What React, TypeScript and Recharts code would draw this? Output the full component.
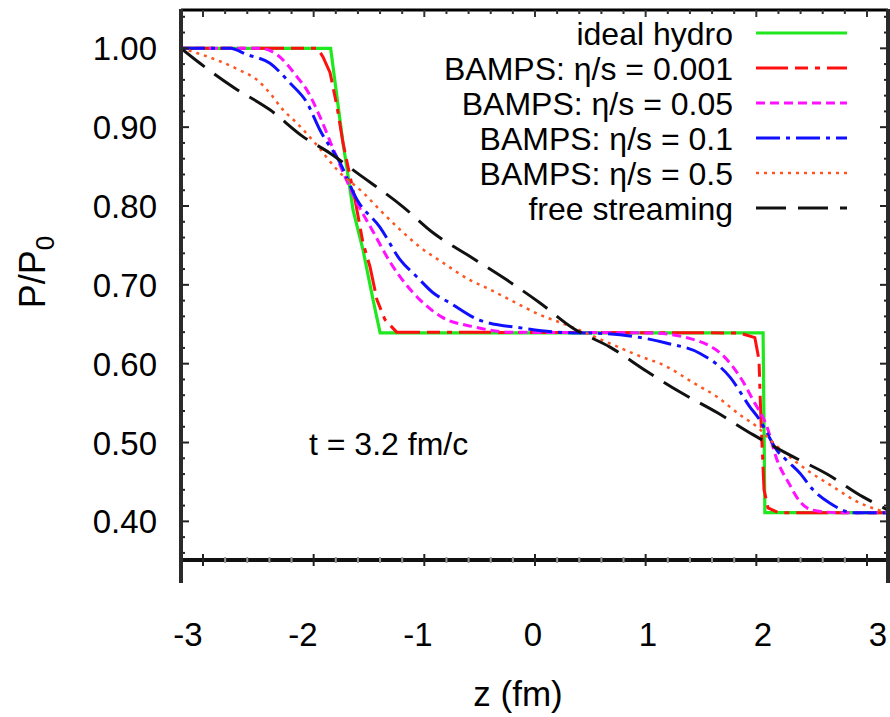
import React from "react";
import { LineChart, Line, XAxis, YAxis, Label } from "recharts";

const FONT = '"Liberation Sans", Arial, Helvetica, sans-serif';

// pressure profiles P/P0 vs z (fm) at t = 3.2 fm/c as [z, P/P0]
const idealHydro = [
  [-3, 1.0], [-1.73, 1.0], [-1.676, 0.938], [-1.625, 0.88], [-1.59, 0.846], [-1.54, 0.795],
  [-1.455, 0.744], [-1.37, 0.681], [-1.31, 0.639], [1.94, 0.639], [1.955, 0.411], [3, 0.411],
];
const bamps0001 = [
  [-3, 1.0], [-1.84, 1.0], [-1.795, 0.989], [-1.735, 0.969], [-1.676, 0.926], [-1.625, 0.88],
  [-1.583, 0.85], [-1.523, 0.808], [-1.455, 0.753], [-1.396, 0.723], [-1.337, 0.681],
  [-1.27, 0.656], [-1.17, 0.64], [1.74, 0.639], [1.87, 0.633], [1.905, 0.605], [1.922, 0.528],
  [1.948, 0.44], [1.982, 0.417], [2.07, 0.411], [3, 0.411],
];
const bamps005 = [
  [-3, 1.0], [-2.33, 1.0], [-2.185, 0.992], [-2.016, 0.964], [-1.931, 0.947], [-1.82, 0.913],
  [-1.71, 0.873], [-1.506, 0.804], [-1.379, 0.77], [-1.226, 0.729], [-1.099, 0.702],
  [-0.972, 0.681], [-0.785, 0.659], [-0.522, 0.647], [-0.208, 0.64], [0.98, 0.639],
  [1.405, 0.628], [1.634, 0.605], [1.77, 0.577], [1.854, 0.554], [1.973, 0.52], [2.058, 0.478],
  [2.168, 0.446], [2.228, 0.43], [2.364, 0.414], [2.593, 0.411], [3, 0.411],
];
const bamps01 = [
  [-3, 1.0], [-2.584, 1.0], [-2.44, 0.992], [-2.245, 0.981], [-2.075, 0.956], [-1.931, 0.931],
  [-1.82, 0.896], [-1.651, 0.855], [-1.506, 0.808], [-1.311, 0.773], [-1.141, 0.732],
  [-0.997, 0.71], [-0.861, 0.69], [-0.717, 0.677], [-0.462, 0.655], [-0.098, 0.645],
  [0.191, 0.64], [0.615, 0.638], [1.125, 0.626], [1.405, 0.613], [1.659, 0.583], [1.829, 0.545],
  [1.914, 0.528], [1.973, 0.512], [2.058, 0.49], [2.143, 0.477], [2.253, 0.461], [2.364, 0.44],
  [2.508, 0.423], [2.703, 0.411], [3, 0.411],
];
const bamps05 = [
  [-3, 1.0], [-2.694, 0.985], [-2.499, 0.972], [-2.355, 0.96], [-2.245, 0.943], [-2.134, 0.922],
  [-2.016, 0.905], [-1.846, 0.877], [-1.676, 0.846], [-1.455, 0.817], [-1.286, 0.791],
  [-1.141, 0.77], [-0.972, 0.748], [-0.776, 0.728], [-0.547, 0.706], [-0.403, 0.696],
  [-0.208, 0.681], [0.047, 0.662], [0.276, 0.649], [0.666, 0.624], [0.87, 0.611], [1.125, 0.596],
  [1.345, 0.576], [1.549, 0.558], [1.744, 0.535], [1.888, 0.52], [2.024, 0.5], [2.313, 0.465],
  [2.533, 0.444], [2.737, 0.425], [2.907, 0.415], [3, 0.411],
];
const freeStreaming = [
  [-3, 1.0], [-2.839, 0.981], [-2.559, 0.951], [-2.245, 0.922], [-1.965, 0.888], [-1.735, 0.867],
  [-1.506, 0.842], [-1.116, 0.799], [-0.861, 0.766], [-0.547, 0.736], [-0.233, 0.706],
  [0.047, 0.677], [0.327, 0.645], [0.641, 0.621], [0.955, 0.59], [1.235, 0.564], [1.549, 0.538],
  [1.854, 0.51], [2.168, 0.484], [2.482, 0.46], [2.788, 0.431], [2.992, 0.415],
];

const xTicks = [-3, -2, -1, 0, 1, 2, 3];
const yTicks = [
  0.36, 0.38, 0.4, 0.42, 0.44, 0.46, 0.48, 0.5, 0.52, 0.54, 0.56, 0.58, 0.6, 0.62, 0.64, 0.66,
  0.68, 0.7, 0.72, 0.74, 0.76, 0.78, 0.8, 0.82, 0.84, 0.86, 0.88, 0.9, 0.92, 0.94, 0.96, 0.98,
  1.0, 1.02, 1.04,
];
// tick marks along top / bottom border (every fifth one is long)
const borderTicks = [
  0, 1, 2, 3, 4, 5, 6, 7, 8, 9, 10, 11, 12, 13, 14, 15, 16, 17, 18, 19, 20, 21, 22, 23, 24, 25,
  26, 27, 28, 29, 30,
];

const series = [
  { name: "ideal hydro", data: idealHydro, color: "#1fe81f", dash: undefined, width: 3.2, curve: "linear" },
  { name: "BAMPS: η/s = 0.001", data: bamps0001, color: "#ff1010", dash: "32 7 13 7 5 7", width: 3, curve: "linear" },
  { name: "BAMPS: η/s = 0.05", data: bamps005, color: "#ff10ff", dash: "9 5", width: 3, curve: "monotone" },
  { name: "BAMPS: η/s = 0.1", data: bamps01, color: "#1010ff", dash: "24 6 4 6", width: 3, curve: "monotone" },
  { name: "BAMPS: η/s = 0.5", data: bamps05, color: "#ff5520", dash: "3 5", width: 2.5, curve: "monotone" },
  { name: "free streaming", data: freeStreaming, color: "#111111", dash: "30 12", width: 3, curve: "monotone" },
];

// chart-level rows so the decoration axes (border ticks, labels) get a domain
const frameRows = borderTicks.map((t) => ({ t, v: yTicks[t] }));

const isMajor = (v: number) => Math.abs(v * 10 - Math.round(v * 10)) < 1e-6;

const LeftTick = (props: any) => {
  const { x, y, payload } = props;
  const v = payload.value;
  const major = isMajor(v);
  return (
    <g>
      <line x1={x} x2={x + (major ? 8 : 4)} y1={y} y2={y} stroke="#222" strokeWidth={2} />
      {major && (
        <text x={x - 24} y={y + 12} textAnchor="end" fontSize={33} fontFamily={FONT} fill="#000">
          {v.toFixed(2)}
        </text>
      )}
    </g>
  );
};

const RightTick = (props: any) => {
  const { x, y, payload } = props;
  const major = isMajor(payload.value);
  return <line x1={x} x2={x - (major ? 8 : 4)} y1={y} y2={y} stroke="#222" strokeWidth={2} />;
};

const TopTick = (props: any) => {
  const { x, y, payload } = props;
  const major = payload.value % 5 === 0;
  return <line x1={x} x2={x} y1={y} y2={y + (major ? 7 : 4)} stroke="#333" strokeWidth={2} />;
};

const BottomTick = (props: any) => {
  const { x, y, payload } = props;
  const major = payload.value % 5 === 0;
  const h = major ? 6 : 3;
  return <line x1={x} x2={x} y1={y - h} y2={y + h} stroke={major ? "#222" : "#999"} strokeWidth={2} />;
};

const XLabelTick = (props: any) => {
  const { x, y, payload } = props;
  const v = payload.value;
  return (
    <text x={x} y={y + 85} textAnchor="middle" fontSize={33} fontFamily={FONT} fill="#000">
      {v < 0 ? `-${-v}` : String(v)}
    </text>
  );
};

export default function App() {
  return (
    <div style={{ position: "absolute", left: 0, top: 0, width: 890, height: 717, background: "#fff" }}>
      <LineChart
        width={890}
        height={717}
        data={frameRows}
        margin={{ top: 9, right: 1, bottom: 155, left: 0 }}
      >
        <XAxis xAxisId="z" dataKey="z" type="number" domain={[-3, 3]} allowDataOverflow hide />
        <XAxis
          xAxisId="bottomTicks"
          dataKey="t"
          type="number"
          domain={[-0.994, 30.95]}
          allowDataOverflow
          ticks={borderTicks}
          height={1}
          axisLine={{ stroke: "#111", strokeWidth: 4 }}
          tickLine={false}
          tickSize={0}
          tickMargin={0}
          tick={<BottomTick />}
          interval={0}
        />
        <XAxis
          xAxisId="labels"
          dataKey="t"
          type="number"
          domain={[-3.061, 3.087]}
          allowDataOverflow
          ticks={xTicks}
          height={1}
          axisLine={false}
          tickLine={false}
          tickSize={0}
          tickMargin={0}
          tick={<XLabelTick />}
          interval={0}
        >
          <Label
            content={() => (
              <text x={518} y={706} textAnchor="middle" fontSize={35} fontFamily={FONT} fill="#000">
                z (fm)
              </text>
            )}
          />
        </XAxis>
        <XAxis
          xAxisId="topTicks"
          dataKey="t"
          orientation="top"
          type="number"
          domain={[-0.994, 30.95]}
          allowDataOverflow
          ticks={borderTicks}
          height={1}
          axisLine={{ stroke: "#000", strokeWidth: 3 }}
          tickLine={false}
          tickSize={0}
          tickMargin={0}
          tick={<TopTick />}
          interval={0}
        />
        <YAxis
          yAxisId="p"
          type="number"
          domain={[0.351, 1.0486]}
          allowDataOverflow
          ticks={yTicks}
          width={181}
          axisLine={false}
          tickLine={false}
          tickSize={0}
          tickMargin={0}
          tick={<LeftTick />}
          interval={0}
        />
        <YAxis
          yAxisId="right"
          dataKey="v"
          orientation="right"
          type="number"
          domain={[0.351, 1.0486]}
          allowDataOverflow
          ticks={yTicks}
          width={1}
          axisLine={false}
          tickLine={false}
          tickSize={0}
          tickMargin={0}
          tick={<RightTick />}
          interval={0}
        />
        {series.map((s) => (
          <Line
            key={s.name}
            xAxisId="z"
            yAxisId="p"
            data={s.data.map(([z, p]) => ({ z, p }))}
            dataKey="p"
            name={s.name}
            type={s.curve as any}
            stroke={s.color}
            strokeWidth={s.width}
            strokeDasharray={s.dash}
            dot={false}
            activeDot={false}
            isAnimationActive={false}
          />
        ))}
      </LineChart>
      <svg
        width={890}
        height={717}
        style={{ position: "absolute", left: 0, top: 0, pointerEvents: "none" }}
      >
        <line x1={181} y1={9} x2={181} y2={583} stroke="#2a2a2a" strokeWidth={4} />
        <line x1={888} y1={9} x2={888} y2={583} stroke="#2a2a2a" strokeWidth={4} />
        {series.map((s, i) => (
          <g key={s.name}>
            <text
              x={733}
              y={45 + i * 35}
              textAnchor="end"
              fontSize={32}
              fontFamily={FONT}
              fill="#000"
            >
              {s.name}
            </text>
            <line
              x1={756}
              x2={847}
              y1={33 + i * 35}
              y2={33 + i * 35}
              stroke={s.color}
              strokeWidth={s.width}
              strokeDasharray={s.dash}
            />
          </g>
        ))}
        <text x={309} y={455} fontSize={32} fontFamily={FONT} fill="#000">
          t = 3.2 fm/c
        </text>
        <text
          transform="rotate(-90)"
          x={-272}
          y={45}
          textAnchor="middle"
          fontSize={36}
          fontFamily={FONT}
          fill="#000"
        >
          P/P<tspan dy={9} fontSize={26}>0</tspan>
        </text>
      </svg>
    </div>
  );
}
